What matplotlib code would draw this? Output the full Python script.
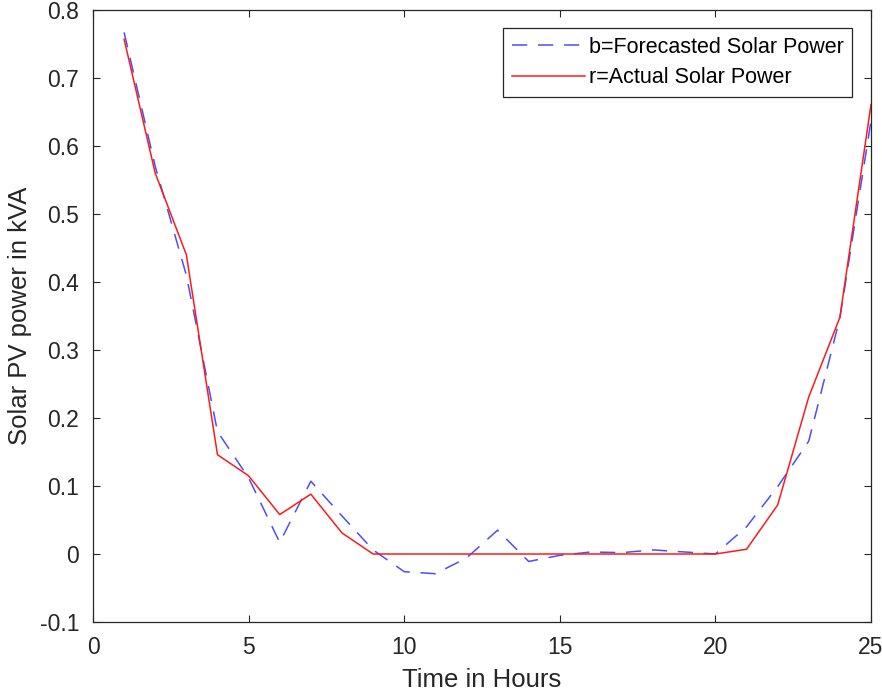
import matplotlib.pyplot as plt
import numpy as np

plt.rcParams['font.family'] = ['Liberation Sans', 'DejaVu Sans']

hours = np.arange(1, 26)
forecast = [0.767, 0.57, 0.41, 0.18, 0.112, 0.017, 0.107, 0.056, 0.006, -0.026,
            -0.029, -0.006, 0.035, -0.011, -0.002, 0.003, 0.002, 0.006, 0.003, 0.0,
            0.04, 0.099, 0.166, 0.347, 0.637]
actual = [0.757, 0.56, 0.44, 0.146, 0.115, 0.058, 0.088, 0.031, 0.0, 0.0,
          0.0, 0.0, 0.0, 0.0, 0.0, 0.0, 0.0, 0.0, 0.0, 0.0,
          0.007, 0.072, 0.231, 0.348, 0.661]

fig = plt.figure(figsize=(8.82, 6.94), dpi=100)
ax = fig.add_axes([93 / 882, 1 - 622 / 694, (871 - 93) / 882, (622 - 10) / 694])

ax.plot(hours, forecast, color='#4d4dff', linestyle=(0, (10, 7)), lw=1.1,
        label='b=Forecasted Solar Power')
ax.plot(hours, actual, color='#ff1a1a', lw=1.1, label='r=Actual Solar Power')

ax.set_xlim(0, 25)
ax.set_ylim(-0.1, 0.8)
ax.set_xticks([0, 5, 10, 15, 20, 25])
ax.set_yticks(np.arange(-0.1, 0.81, 0.1))
ax.set_yticklabels(['-0.1', '0', '0.1', '0.2', '0.3', '0.4', '0.5', '0.6', '0.7', '0.8'])

ax.tick_params(direction='in', top=True, right=True, length=5, width=0.8,
               labelsize=16.5, colors='#262626', pad=10)
for s in ax.spines.values():
    s.set_color('#262626')
    s.set_linewidth(0.9)

ax.set_xlabel('Time in Hours', fontsize=18.5, color='#262626')
ax.set_ylabel('Solar PV power in kVA', fontsize=18.5, color='#262626')
ax.xaxis.set_label_coords(0.5, -0.075)
ax.yaxis.set_label_coords(-0.078, 0.5)

leg = ax.legend(loc='upper right', bbox_to_anchor=(0.9756, 0.9706), borderaxespad=0,
                fontsize=15.5, fancybox=False, framealpha=1, edgecolor='#262626',
                handlelength=3.4, handletextpad=0.15, borderpad=0.4,
                labelspacing=0.45)
leg.get_frame().set_linewidth(0.9)

fig.savefig('out.png', dpi=100)
